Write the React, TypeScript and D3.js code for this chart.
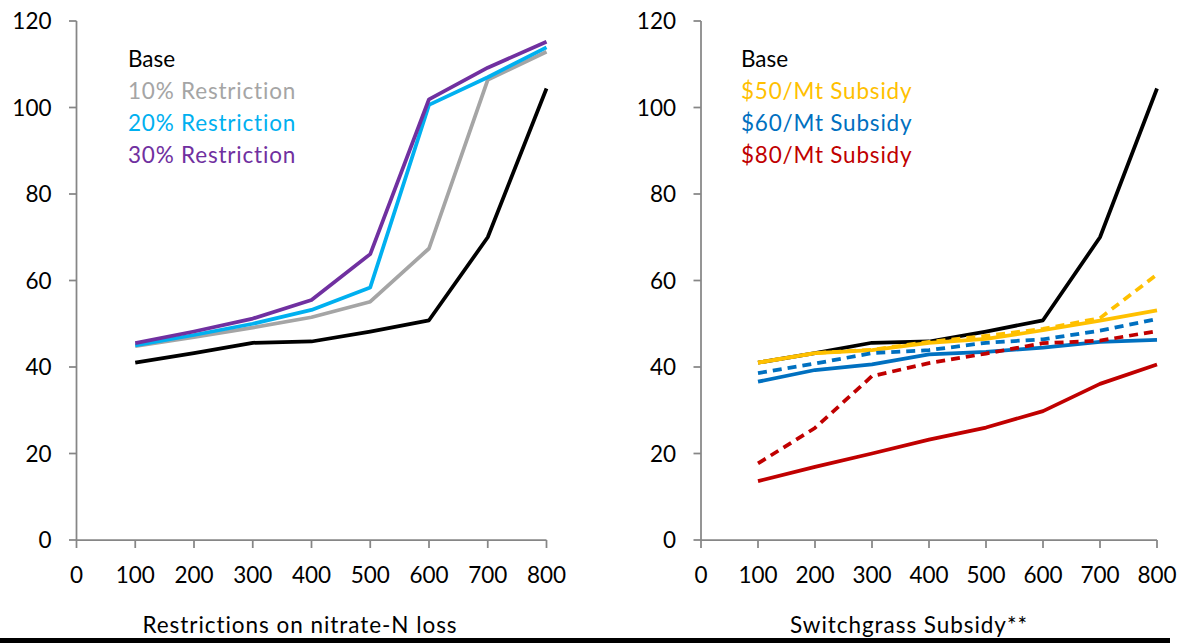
import React from "react";
import * as d3 from "d3";

const xValues = [100, 200, 300, 400, 500, 600, 700, 800];
const xTicks = [0, 100, 200, 300, 400, 500, 600, 700, 800];
const yTicks = [0, 20, 40, 60, 80, 100, 120];

const base = [41.0, 43.2, 45.6, 45.9, 48.2, 50.8, 70.0, 104.4];
const restr10 = [44.8, 46.9, 49.1, 51.5, 55.1, 67.4, 106.4, 112.9];
const restr20 = [45.0, 47.4, 50.0, 53.2, 58.4, 100.6, 107.0, 113.9];
const restr30 = [45.5, 48.2, 51.2, 55.5, 66.1, 101.9, 109.2, 115.2];

const sub50 = [41.0, 43.2, 43.9, 45.6, 46.5, 48.5, 50.7, 53.1];
const sub60 = [36.6, 39.3, 40.6, 42.9, 43.5, 44.5, 45.8, 46.3];
const sub80 = [13.6, 16.9, 20.0, 23.2, 26.0, 29.8, 36.1, 40.6];
const sub50d = [41.0, 43.2, 44.0, 45.8, 47.2, 48.8, 51.3, 61.4];
const sub60d = [38.6, 40.8, 43.2, 43.9, 45.6, 46.4, 48.4, 51.1];
const sub80d = [17.7, 25.9, 37.9, 40.9, 43.1, 45.5, 46.1, 48.3];

const leftLegend = ["Base", "10% Restriction", "20% Restriction", "30% Restriction"];
const rightLegend = ["Base", "$50/Mt Subsidy", "$60/Mt Subsidy", "$80/Mt Subsidy"];
const leftTitle = "Restrictions on nitrate-N loss";
const rightTitle = "Switchgrass Subsidy**";

const FONT = "Lato, 'Open Sans', sans-serif";
const FS = 22.5;
const AXIS = "#868686";
const noLig = { fontVariantLigatures: "none" as const };

type Series = { values: number[]; color: string; dashed?: boolean };

function Panel({
  x0,
  x1,
  series,
  legend,
  legendColors,
  legendX,
  title,
  titleX,
}: {
  x0: number;
  x1: number;
  series: Series[];
  legend: string[];
  legendColors: string[];
  legendX: number;
  title: string;
  titleX: number;
}) {
  const x = d3.scaleLinear().domain([0, 800]).range([x0, x1]);
  const y = d3.scaleLinear().domain([0, 120]).range([540, 21]);
  const line = d3
    .line<number>()
    .x((_, i) => x(xValues[i]))
    .y((d) => y(d));
  return (
    <g>
      <line x1={x0} x2={x0} y1={y(120)} y2={y(0)} stroke={AXIS} strokeWidth={1.75} />
      <line x1={x0} x2={x1} y1={y(0)} y2={y(0)} stroke={AXIS} strokeWidth={1.75} />
      {yTicks.map((t) => (
        <g key={"y" + t}>
          <line x1={x0 - 7.5} x2={x0} y1={y(t)} y2={y(t)} stroke={AXIS} strokeWidth={1.75} />
          <text
            x={x0 - 25}
            y={y(t)}
            dy="0.36em"
            textAnchor="end"
            fontFamily={FONT}
            fontSize={FS}
            fill="#000"
          >
            {t}
          </text>
        </g>
      ))}
      {xTicks.map((t) => (
        <g key={"x" + t}>
          <line x1={x(t)} x2={x(t)} y1={y(0)} y2={y(0) + 8} stroke={AXIS} strokeWidth={1.75} />
          <text
            x={x(t)}
            y={583}
            textAnchor="middle"
            fontFamily={FONT}
            fontSize={FS}
            fill="#000"
          >
            {t}
          </text>
        </g>
      ))}
      {series.map((s, i) => (
        <path
          key={i}
          d={line(s.values) || ""}
          fill="none"
          stroke={s.color}
          strokeWidth={3.75}
          strokeLinejoin="round"
          strokeDasharray={s.dashed ? "9,6" : undefined}
        />
      ))}
      {legend.map((l, i) => (
        <text
          key={l}
          x={legendX}
          y={67 + i * 32}
          fontFamily={FONT}
          fontSize={FS}
          letterSpacing={i === 0 ? 0 : 0.8}
          style={noLig}
          fill={legendColors[i]}
        >
          {l}
        </text>
      ))}
      <text
        x={titleX}
        y={633}
        textAnchor="middle"
        fontFamily={FONT}
        fontSize={FS}
        letterSpacing={0.95}
        style={noLig}
        fill="#000"
      >
        {title}
      </text>
    </g>
  );
}

export default function App() {
  const leftColors = ["#000000", "#A5A5A5", "#00B0F0", "#7030A0"];
  const rightColors = ["#000000", "#FFC000", "#0070C0", "#C00000"];
  return (
    <svg
      width={1184}
      height={643}
      style={{ position: "absolute", left: 0, top: 0, background: "#fff" }}
    >
      <rect x={0} y={0} width={1184} height={643} fill="#fff" />
      <Panel
        x0={76.5}
        x1={546.5}
        series={[
          { values: base, color: leftColors[0] },
          { values: restr10, color: leftColors[1] },
          { values: restr20, color: leftColors[2] },
          { values: restr30, color: leftColors[3] },
        ]}
        legend={leftLegend}
        legendColors={leftColors}
        legendX={128}
        title={leftTitle}
        titleX={300}
      />
      <Panel
        x0={701}
        x1={1157}
        series={[
          { values: base, color: rightColors[0] },
          { values: sub50, color: rightColors[1] },
          { values: sub60, color: rightColors[2] },
          { values: sub80, color: rightColors[3] },
          { values: sub50d, color: rightColors[1], dashed: true },
          { values: sub60d, color: rightColors[2], dashed: true },
          { values: sub80d, color: rightColors[3], dashed: true },
        ]}
        legend={rightLegend}
        legendColors={rightColors}
        legendX={741}
        title={rightTitle}
        titleX={909}
      />
      <rect x={0} y={638} width={1170} height={5} fill="#000" />
    </svg>
  );
}
